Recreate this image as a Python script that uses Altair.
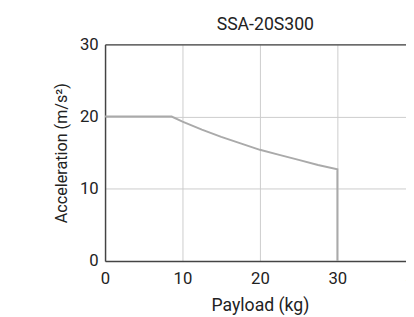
import altair as alt
import pandas as pd

payload = [0, 8.6, 10, 12.5, 15, 17.5, 20, 22.5, 25, 27.5, 30, 30]
accel = [20, 20, 19.3, 18.2, 17.2, 16.3, 15.4, 14.7, 14.0, 13.3, 12.7, 0]
x_ticks = [0, 10, 20, 30, 40]
y_ticks = [0, 10, 20, 30]

df = pd.DataFrame({"payload": payload, "accel": accel, "idx": list(range(len(payload)))})

FONT = "Roboto"
DARK = "#444444"
TXT = "#222222"

xscale = alt.Scale(domain=[0, 40], range=[0, 316], nice=False)
yscale = alt.Scale(domain=[0, 30], nice=False)

yaxis = alt.Axis(values=y_ticks, title="Acceleration (m/s²)", grid=True, ticks=False,
                 labelPadding=7, titlePadding=10, domainColor=DARK, domainWidth=1.5,
                 labelFlush=False, titleFontSize=16.5)

line = alt.Chart(df).mark_line(color="#aaaaaa", strokeWidth=2, interpolate="linear").encode(
    x=alt.X("payload:Q", scale=xscale,
            axis=alt.Axis(values=x_ticks, title="Payload (kg)", grid=True, ticks=False,
                          labelPadding=10, titlePadding=10, domainColor=DARK, domainWidth=1.5,
                          labelFlush=False, titleFontSize=18)),
    y=alt.Y("accel:Q", scale=yscale, axis=yaxis),
    order="idx:Q",
)

top = alt.Chart(df).mark_line(opacity=0).encode(
    x=alt.X("payload:Q", scale=xscale,
            axis=alt.Axis(orient="top", labels=False, ticks=False, grid=False, title=None,
                          domainColor=DARK, domainWidth=1.5)),
    y=alt.Y("accel:Q", scale=yscale, axis=yaxis),
)

chart = alt.layer(line, top).resolve_axis(x="independent").properties(
    width=307,
    height=221,
    title=alt.TitleParams("SSA-20S300", anchor="middle", dx=10, fontSize=18,
                          font=FONT, fontWeight="normal", color=TXT, offset=2),
    autosize=alt.AutoSizeParams(type="none"),
    padding={"left": 99, "top": 34, "right": 0, "bottom": 54},
).configure_view(stroke=None).configure_axis(
    labelFont=FONT, titleFont=FONT, labelFontSize=17,
    labelColor=TXT, titleColor=TXT, titleFontWeight="normal",
    gridColor="#cccccc", gridWidth=1,
)

chart.save("out.html", embed_options={"renderer": "svg", "actions": False})
